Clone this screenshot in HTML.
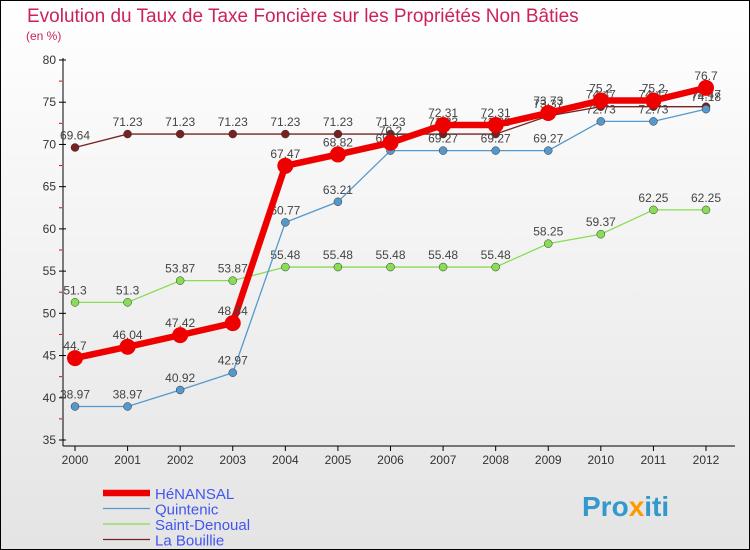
<!DOCTYPE html>
<html><head><meta charset="utf-8"><style>
body{margin:0}
svg{display:block;font-family:"Liberation Sans",sans-serif}
</style></head><body>
<svg id="c" width="750" height="550">
<defs><linearGradient id="bg" x1="0" y1="0" x2="0" y2="1"><stop offset="0" stop-color="#ffffff"/><stop offset="1" stop-color="#e4e4e4"/></linearGradient></defs>
<rect x="0.5" y="0.5" width="749" height="549" fill="url(#bg)" stroke="#000"/>
<text x="27" y="22" font-size="19" fill="#cc2255">Evolution du Taux de Taxe Foncière sur les Propriétés Non Bâties</text>
<text x="26" y="40" font-size="12" fill="#cc2255">(en %)</text>
<g id="axes"></g><g id="series"></g><g id="legend"></g>
<text x="582" y="516" font-size="28" font-weight="bold" fill="#3399cc">Pro<tspan fill="#ff9900">x</tspan>iti</text>
</svg>
<script>
const years=[2000,2001,2002,2003,2004,2005,2006,2007,2008,2009,2010,2011,2012];
const yTicks=[35,40,45,50,55,60,65,70,75,80];
const henansal=[44.7,46.04,47.42,48.84,67.47,68.82,70.2,72.31,72.31,73.73,75.2,75.2,76.7];
const quintenic=[38.97,38.97,40.92,42.97,60.77,63.21,69.27,69.27,69.27,69.27,72.73,72.73,74.18];
const saintDenoual=[51.3,51.3,53.87,53.87,55.48,55.48,55.48,55.48,55.48,58.25,59.37,62.25,62.25];
const laBouillie=[69.64,71.23,71.23,71.23,71.23,71.23,71.23,71.23,71.23,73.37,74.47,74.47,74.47];
const NS="http://www.w3.org/2000/svg";
const X=i=>75+i*(706-75)/(years.length-1);
const Y=v=>60+(80-v)*(440-60)/45;
function mk(t,a,p){const e=document.createElementNS(NS,t);for(const k in a)e.setAttribute(k,a[k]);p.appendChild(e);return e;}
const ax=document.getElementById('axes');
let l=mk('line',{x1:63,y1:58,x2:63,y2:446,stroke:'#000'},ax);


l=mk('line',{x1:63,y1:446,x2:735,y2:446,stroke:'#000'},ax);


yTicks.forEach(v=>{
 mk('line',{x1:59,y1:Y(v),x2:66,y2:Y(v),stroke:'#000'},ax);
 if(v<80)mk('line',{x1:59,y1:Y(v+2.5),x2:62,y2:Y(v+2.5),stroke:'#e00'},ax);
 const t=mk('text',{x:56,y:Y(v)+4,'font-size':12,'text-anchor':'end',fill:'#333'},ax);t.textContent=v;
 
 
});
years.forEach((yr,i)=>{
 mk('line',{x1:X(i),y1:446,x2:X(i),y2:451,stroke:'#000'},ax);
 const t=mk('text',{x:X(i),y:464,'font-size':12,'text-anchor':'middle',fill:'#333'},ax);t.textContent=yr;
 
 
});
const sg=document.getElementById('series');
const series=[
 {name:'La Bouillie',key:'la-bouillie',d:laBouillie,c:'#772222',w:1.3,r:4},
 {name:'Saint-Denoual',key:'saint-denoual',d:saintDenoual,c:'#88dd55',w:1.3,r:4},
 {name:'Quintenic',key:'quintenic',d:quintenic,c:'#5599cc',w:1.3,r:4},
 {name:'HéNANSAL',key:'henansal',d:henansal,c:'#ee0000',w:6.5,r:8}
];
series.forEach(s=>{
 const g=mk('g',{},sg);
 
 
 const p=mk('polyline',{points:s.d.map((v,i)=>X(i)+','+Y(v)).join(' '),fill:'none',stroke:s.c,'stroke-width':s.w},g);
 
 
 s.d.forEach((v,i)=>{
  const c=mk('circle',{cx:X(i),cy:Y(v),r:s.r,fill:s.c,stroke:s.r<5?'#333':'none','stroke-width':0.5},g);
  
  
  const t=mk('text',{x:X(i),y:Y(v)-8,'font-size':12,'text-anchor':'middle',fill:'#444'},g);t.textContent=v;
  
  
 });
});
const lg=document.getElementById('legend');
[...series].reverse().forEach((s,i)=>{
 const y=493+i*15.5;
 const g=mk('g',{},lg);
 
 
 mk('line',{x1:103,y1:y,x2:150,y2:y,stroke:s.c,'stroke-width':s.w},g);
 const t=mk('text',{x:155,y:y+6,'font-size':15,fill:'#4455ee'},g);t.textContent=s.name;
});
</script>
</body></html>
